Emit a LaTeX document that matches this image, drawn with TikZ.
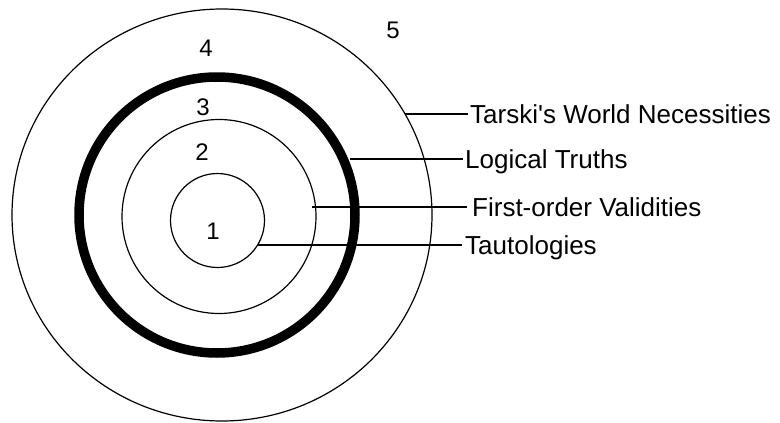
\documentclass[tikz,border=0pt]{standalone}
\usepackage{fontspec}
\setmainfont{Liberation Sans}
\begin{document}
\begin{tikzpicture}[x=1pt,y=-1pt,
  thinring/.style={draw=black, line width=1.2pt},
  thickring/.style={draw=black, line width=9.5pt},
  leader/.style={draw=black, line width=1.2pt},
  digit/.style={inner sep=0pt, font=\fontsize{24}{28}\selectfont},
  lbl/.style={inner sep=0pt, anchor=base west, font=\fontsize{26}{30}\selectfont}]
\useasboundingbox (0,0) rectangle (780,423);
% rings
\draw[thinring] (222,215) ellipse [x radius=210, y radius=206];
\draw[thickring] (217,215) circle [radius=138];
\draw[thinring] (219,216.5) circle [radius=97];
\draw[thinring] (217.5,220.5) circle [radius=47];
% region numbers
\node[digit] (n1) at (213,231) {1};
\node[digit] (n2) at (202,152) {2};
\node[digit] (n3) at (203,107) {3};
\node[digit] (n4) at (206,48) {4};
\node[digit] (n5) at (393,30) {5};
% labels
\node[lbl] (tw) at (470,123.5) {Tarski\textquotesingle s World Necessities};
\node[lbl] (lt) at (465,168.5) {Logical Truths};
\node[lbl] (fo) at (472,216.5) {First-order Validities};
\node[lbl] (ta) at (465,254.5) {Tautologies};
% leader start/end points
\coordinate (s1) at (405,114);
\coordinate (e1) at (468,114);
\coordinate (s2) at (350,159);
\coordinate (e2) at (463,159);
\coordinate (s3) at (312,207);
\coordinate (e3) at (467,207);
\coordinate (s4) at (257.6,245);
\coordinate (e4) at (462,245);
\draw[leader] (s1) -- (e1);
\draw[leader] (s2) -- (e2);
\draw[leader] (s3) -- (e3);
\draw[leader] (s4) -- (e4);
\end{tikzpicture}
\end{document}
